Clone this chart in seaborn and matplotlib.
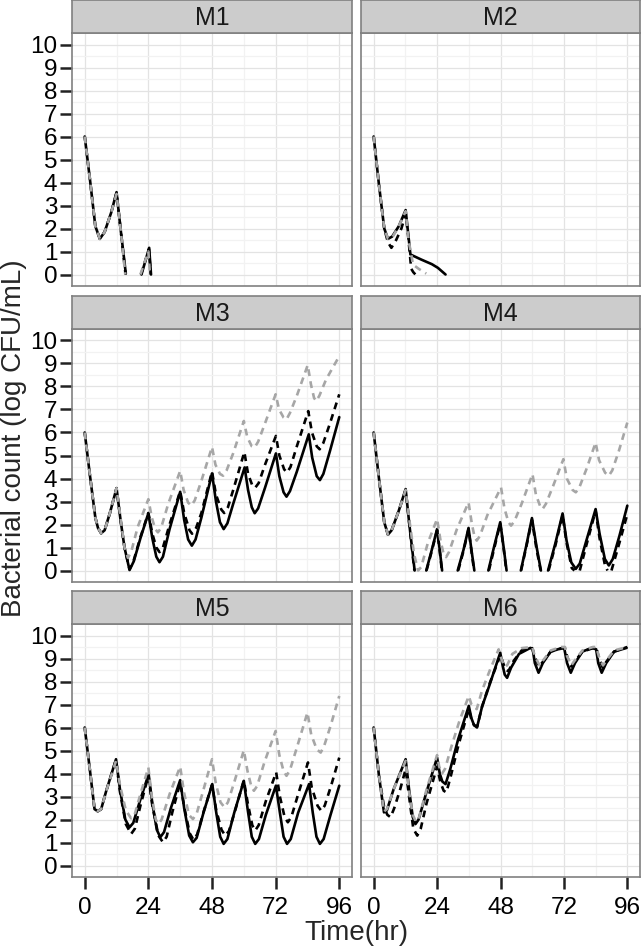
import numpy as np
import pandas as pd
import matplotlib
matplotlib.use("Agg")
import matplotlib.pyplot as plt
import seaborn as sns

nan = np.nan

models = ["M1", "M2", "M3", "M4", "M5", "M6"]
series = ["A", "B", "C"]   # A solid black, B dashed black, C dashed grey
x_ticks = [0, 24, 48, 72, 96]
y_ticks = list(range(11))

# ---- M1 ----
m1_a_t = [0, 2, 4, 5.7, 7.5, 10, 12, 13.5, 15.5, nan, 21.4, 24.3, 25]
m1_a_y = [6, 4.1, 2.1, 1.55, 1.85, 2.7, 3.58, 2.0, 0.04, nan, 0, 1.16, 0]
m1_b_t = [0, 2, 4, 5.7, 7.5, 10, 12, 13.5, 15.4, nan, 21.2, 24.2, 24.9]
m1_b_y = [6, 4.1, 2.1, 1.55, 1.85, 2.7, 3.55, 2.0, 0.0, nan, 0, 1.1, 0]
m1_c_t = [0, 2, 4, 5.7, 7.5, 10, 12, 13.5, 15.3, nan, 21.0, 24.0, 24.6]
m1_c_y = [6, 4.1, 2.1, 1.55, 1.85, 2.7, 3.5, 2.0, 0.0, nan, 0, 1.0, 0]

# ---- M2 ----
m2_a_t = [0, 2, 4, 5.4, 7, 9.5, 12.1, 13.9, 18, 22, 24.3, 27.2]
m2_a_y = [6, 3.9, 2.0, 1.55, 1.65, 2.1, 2.8, 0.87, 0.65, 0.45, 0.29, 0]
m2_b_t = [0, 2, 4, 5.4, 6.7, 8.5, 10.5, 12.1, 13.2, 14.2, 15, 15.8]
m2_b_y = [6, 3.9, 2.0, 1.4, 1.16, 1.5, 2.0, 2.65, 1.5, 0.25, 0.1, 0]
m2_c_t = [0, 2, 4, 5.4, 7, 9.5, 12.1, 13.2, 14.9, 17, 19.9]
m2_c_y = [6, 3.9, 2.0, 1.55, 1.6, 2.1, 2.75, 1.5, 0.43, 0.25, 0.04]

# ---- M3 ----
m3_a_t = [0, 2, 4, 5, 6.2, 7.5, 9.5, 12, 13.5, 15, 16.9, 18.5, 21, 24,
          25.5, 27, 28.2, 29.5, 32, 36, 37.5, 39, 40.4, 41.8, 44, 48,
          49.5, 51, 52.4, 53.8, 56, 60.3, 61.6, 63, 64.1, 65.4, 68, 72.1,
          73.4, 75, 76.1, 77.4, 80, 84.5, 85.8, 87.5, 88.7, 90, 92.5, 96]
m3_a_y = [6, 4.1, 2.3, 1.85, 1.62, 1.75, 2.5, 3.58, 2.2, 1.0, 0.02, 0.4, 1.4, 2.49,
          1.4, 0.6, 0.36, 0.6, 1.8, 3.42, 2.2, 1.35, 1.08, 1.35, 2.3, 4.22,
          3.0, 2.1, 1.8, 2.05, 2.9, 4.48, 3.5, 2.75, 2.49, 2.7, 3.6, 5.09,
          4.1, 3.4, 3.21, 3.45, 4.3, 5.92, 4.9, 4.1, 3.93, 4.2, 5.2, 6.67]
m3_b_t = [0, 2, 4, 5, 6.2, 7.5, 9.5, 12, 13.5, 15, 16.9, 18.5, 21, 24,
          25.5, 27, 28.2, 29.5, 32, 36, 37.5, 39.5, 40.5, 42, 44, 48,
          49.5, 51.5, 52.6, 54, 56, 60.2, 61.6, 63.2, 64.3, 65.6, 68, 72.1,
          73.4, 75.2, 76.3, 77.6, 80, 84.3, 85.7, 87.5, 88.6, 90, 92.5, 96]
m3_b_y = [6, 4.1, 2.3, 1.85, 1.62, 1.75, 2.5, 3.58, 2.2, 1.0, 0.05, 0.45, 1.45, 2.5,
          1.6, 1.0, 0.8, 1.0, 2.0, 3.45, 2.5, 1.75, 1.6, 1.85, 2.5, 4.3,
          3.3, 2.65, 2.5, 2.75, 3.5, 5.15, 4.2, 3.7, 3.6, 3.8, 4.6, 5.85,
          5.0, 4.4, 4.26, 4.5, 5.4, 6.93, 6.0, 5.4, 5.27, 5.55, 6.4, 7.66]
m3_c_t = [0, 2, 4, 5, 6.2, 7.5, 9.5, 12, 13.5, 15, 16.3, 17.5, 20, 24,
          25.3, 26.6, 27.6, 28.8, 31.5, 36, 37.3, 39, 40.2, 41.5, 44, 48,
          49.3, 51, 52.2, 53.5, 56, 60, 61.3, 63, 64.1, 65.4, 68, 72,
          73.3, 75, 76.1, 77.4, 80, 84.1, 85.3, 86.5, 87.3, 88.5, 91, 96]
m3_c_y = [6, 4.1, 2.3, 1.85, 1.62, 1.75, 2.5, 3.58, 2.3, 1.0, 0.55, 0.8, 1.9, 3.1,
          2.3, 1.8, 1.66, 1.85, 2.9, 4.33, 3.5, 2.95, 2.82, 3.05, 3.9, 5.37,
          4.6, 4.2, 4.12, 4.35, 5.1, 6.5, 5.8, 5.4, 5.35, 5.6, 6.4, 7.66,
          7.0, 6.65, 6.57, 6.85, 7.6, 8.93, 8.1, 7.5, 7.37, 7.6, 8.3, 9.32]

# ---- M4 ----
m4_a_t = [0, 2, 4, 5.4, 6.8, 9.5, 12.1, 13.5, 15.5, nan,
          19.9, 22, 24, 25, 25.9, nan, 31.8, 34, 35.9, 37, 38.1, nan,
          43.4, 45.5, 47.9, 49.2, 50.3, nan, 55.7, 57.8, 59.9, 61.7, 63.3, nan,
          66, 68.8, 71.5, 73, 74.8, 76.5, 78, 80.5, 84, 85.5, 87.5, 89, 90.5, 93, 96]
m4_a_y = [6, 4.0, 2.1, 1.56, 1.75, 2.6, 3.54, 2.0, 0.0, nan,
          0, 0.9, 1.8, 0.9, 0, nan, 0, 0.9, 1.85, 0.9, 0, nan,
          0, 1.0, 2.1, 1.0, 0, nan, 0, 1.1, 2.28, 1.0, 0, nan,
          0, 1.2, 2.48, 1.3, 0.35, 0.07, 0.3, 1.3, 2.67, 1.6, 0.5, 0.22, 0.5, 1.5, 2.82]
m4_b_t = [0, 2, 4, 5.4, 6.8, 9.5, 12.1, 13.5, 15.4, nan,
          20, 22, 24, 25, 25.8, nan, 32, 34, 35.9, 37, 38, nan,
          43.6, 45.6, 47.9, 49.2, 50.2, nan, 55.8, 57.8, 59.9, 61.6, 63.2, nan,
          66.2, 68.8, 71.5, 73, 75, 76, nan, 78, 80.5, 84, 85.5, 87.5, 88.5, nan,
          90, 93, 96]
m4_b_y = [6, 4.0, 2.1, 1.56, 1.75, 2.6, 3.5, 2.0, 0, nan,
          0, 0.85, 1.75, 0.85, 0, nan, 0, 0.85, 1.8, 0.85, 0, nan,
          0, 0.95, 2.05, 0.95, 0, nan, 0, 1.05, 2.2, 0.95, 0, nan,
          0, 1.1, 2.4, 1.2, 0.1, 0, nan, 0, 1.1, 2.6, 1.4, 0.25, 0, nan,
          0, 1.2, 2.45]
m4_c_t = [0, 2, 4, 5.4, 6.8, 9.5, 12.1, 13.5, 15.3, 16.8, 18, 20.5, 24,
          25.3, 26.5, 27.4, 28.5, 31.5, 35.9, 37.2, 38.2, 39, 40.2, 43, 48.2,
          49.5, 51, 52, 53.3, 56, 60.1, 61.4, 63, 63.9, 65.2, 68, 71.8,
          73.1, 75.3, 76.5, 77.8, 80.5, 84, 85.3, 87.6, 89, 90.3, 92.8, 96]
m4_c_y = [6, 4.0, 2.1, 1.56, 1.75, 2.6, 3.5, 2.2, 0.7, 0, 0.15, 1.2, 2.24,
          1.3, 0.7, 0.58, 0.8, 1.8, 2.96, 2.0, 1.45, 1.3, 1.5, 2.4, 3.61,
          2.7, 2.1, 1.95, 2.15, 2.9, 4.19, 3.3, 2.8, 2.67, 2.9, 3.7, 4.84,
          4.0, 3.5, 3.4, 3.6, 4.4, 5.56, 4.8, 4.25, 4.12, 4.35, 5.2, 6.43]

# ---- M5 ----
m5_a_t = [0, 2, 3.7, 4.9, 6.2, 8, 11.8, 13.3, 15.3, 16.9, 18.3, 20.8, 24.1,
          25.5, 27.2, 28.5, 29.9, 32.5, 36, 37.5, 39.4, 40.8, 42.2, 44.8, 48.1,
          49.6, 51.1, 52.4, 53.8, 56.4, 60, 61.5, 63, 64.3, 65.7, 68.3, 72.1,
          73.6, 75, 76.3, 77.7, 80.5, 84.6, 86, 87.4, 88.7, 90.1, 92.7, 96]
m5_a_y = [6, 4.1, 2.45, 2.36, 2.45, 3.2, 4.62, 3.3, 2.0, 1.66, 1.85, 2.8, 3.97,
          2.7, 1.55, 1.23, 1.45, 2.5, 3.71, 2.5, 1.3, 1.01, 1.2, 2.3, 3.54,
          2.3, 1.25, 0.94, 1.15, 2.3, 3.68, 2.4, 1.25, 0.94, 1.15, 2.2, 3.47,
          2.3, 1.25, 0.94, 1.15, 2.3, 3.54, 2.3, 1.25, 0.94, 1.15, 2.2, 3.47]
m5_b_t = [0, 2, 3.7, 4.9, 6.2, 8, 11.8, 13.3, 15.5, 17.5, 18.9, 21, 24,
          25.5, 27.8, 29.5, 30.9, 33, 36, 37.6, 39.6, 41, 42.4, 45, 48,
          49.6, 51.6, 53, 54.4, 57, 60, 61.5, 63.2, 64.3, 65.6, 68.3, 72.2,
          73.6, 75.4, 76.6, 77.9, 80.5, 84.2, 85.6, 87.8, 89.2, 90.5, 93, 96]
m5_b_y = [6, 4.1, 2.45, 2.36, 2.45, 3.2, 4.6, 3.2, 1.8, 1.37, 1.6, 2.6, 3.9,
          2.6, 1.3, 1.01, 1.25, 2.3, 3.6, 2.5, 1.4, 1.12, 1.35, 2.4, 3.5,
          2.4, 1.55, 1.3, 1.5, 2.5, 3.7, 2.7, 1.75, 1.52, 1.75, 2.8, 4.05,
          3.0, 2.1, 1.88, 2.1, 3.1, 4.48, 3.4, 2.6, 2.38, 2.6, 3.5, 4.69]
m5_c_t = [0, 2, 3.7, 4.9, 6.2, 8, 11.8, 13.3, 15.5, 17.5, 18.8, 21, 24,
          25.3, 26.8, 27.8, 29, 32, 36, 37.4, 39.3, 40.8, 42.2, 44.8, 48,
          49.4, 51.2, 52.7, 54, 56.6, 60, 61.4, 62.8, 63.8, 65, 67.8, 72,
          73.4, 75, 76.1, 77.4, 80.2, 84, 85.4, 87.5, 89, 90.3, 92.8, 96]
m5_c_y = [6, 4.1, 2.45, 2.36, 2.45, 3.2, 4.55, 3.5, 2.4, 2.05, 2.2, 3.1, 4.26,
          3.0, 2.0, 1.8, 2.0, 3.1, 4.3, 3.2, 2.2, 2.02, 2.25, 3.3, 4.62,
          3.6, 2.75, 2.53, 2.75, 3.7, 5.01, 4.1, 3.45, 3.25, 3.45, 4.5, 5.85,
          4.8, 4.1, 3.9, 4.15, 5.2, 6.65, 5.7, 5.05, 4.91, 5.2, 6.1, 7.37]

# ---- M6 ----
m6_a_t = [0, 2, 3.9, 5, 7.5, 12.1, 13.4, 14.8, 15.8, 17, 20, 24,
          25, 26, 27.2, 29, 32, 36, 37, 38, 39.1, 41, 44, 47.9,
          48.8, 49.6, 50.5, 52, 55, 59.3, 60.2, 61, 62.4, 64, 67, 71.4,
          72.2, 73.2, 74.6, 76.2, 79, 82.5, 84.2, 85, 86.3, 88, 91, 95.7]
m6_a_y = [6, 3.9, 2.31, 2.4, 3.3, 4.62, 3.3, 2.1, 1.8, 2.0, 3.2, 4.69,
          4.0, 3.65, 3.54, 4.2, 5.5, 6.94, 6.4, 6.1, 6.0, 6.9, 7.9, 9.25,
          8.7, 8.3, 8.16, 8.6, 9.2, 9.46, 9.4, 8.8, 8.38, 8.8, 9.3, 9.46,
          9.4, 8.8, 8.38, 8.8, 9.3, 9.46, 9.4, 8.8, 8.38, 8.8, 9.3, 9.46]
m6_b_t = [0, 2, 4, 5.2, 6.4, 7.8, 10, 12.1, 13.4, 15, 16.5, 17.8, 20, 24,
          25.3, 26.5, 27.5, 29, 32, 36, 37, 38, 39.2, 41, 44, 48,
          49, 50, 51, 53, 56, 60, 61, 62.6, 64, 67, 71.5,
          72.4, 73.3, 74.8, 76, 79, 83, 84.3, 85.2, 86.7, 88, 91, 96]
m6_b_y = [6, 3.9, 2.5, 2.2, 2.1, 2.5, 3.3, 4.19, 3.0, 1.6, 1.3, 1.6, 2.7, 4.3,
          3.6, 3.25, 3.18, 3.8, 5.2, 6.8, 6.35, 6.1, 6.05, 6.9, 7.95, 9.15,
          8.8, 8.5, 8.45, 8.9, 9.35, 9.45, 9.05, 8.65, 8.85, 9.3, 9.45,
          9.45, 9.05, 8.65, 8.85, 9.3, 9.45, 9.45, 9.05, 8.6, 8.85, 9.3, 9.5]
m6_c_t = [0, 2, 3.9, 5, 7.5, 12.1, 13.4, 14.8, 16, 17.2, 20, 24,
          24.8, 25.9, 27, 29.5, 32.5, 36, 37, 39, 41, 44, 47.3,
          48.3, 49.5, 50.5, 52.5, 56, 60, 61, 62.8, 64, 67, 71,
          72.4, 73.2, 74.8, 76, 79, 83, 84.3, 85.2, 86.8, 88, 91, 96]
m6_c_y = [6, 3.9, 2.35, 2.45, 3.3, 4.55, 3.2, 2.2, 1.9, 2.1, 3.3, 4.8,
          4.3, 4.0, 4.2, 5.2, 6.3, 7.37, 7.0, 6.8, 7.6, 8.5, 9.4,
          9.0, 8.65, 8.7, 9.2, 9.45, 9.5, 9.1, 8.7, 8.9, 9.35, 9.5,
          9.5, 9.1, 8.7, 8.9, 9.35, 9.5, 9.5, 9.1, 8.7, 8.9, 9.35, 9.5]

curves = {
    ("M1", "A"): (m1_a_t, m1_a_y), ("M1", "B"): (m1_b_t, m1_b_y), ("M1", "C"): (m1_c_t, m1_c_y),
    ("M2", "A"): (m2_a_t, m2_a_y), ("M2", "B"): (m2_b_t, m2_b_y), ("M2", "C"): (m2_c_t, m2_c_y),
    ("M3", "A"): (m3_a_t, m3_a_y), ("M3", "B"): (m3_b_t, m3_b_y), ("M3", "C"): (m3_c_t, m3_c_y),
    ("M4", "A"): (m4_a_t, m4_a_y), ("M4", "B"): (m4_b_t, m4_b_y), ("M4", "C"): (m4_c_t, m4_c_y),
    ("M5", "A"): (m5_a_t, m5_a_y), ("M5", "B"): (m5_b_t, m5_b_y), ("M5", "C"): (m5_c_t, m5_c_y),
    ("M6", "A"): (m6_a_t, m6_a_y), ("M6", "B"): (m6_b_t, m6_b_y), ("M6", "C"): (m6_c_t, m6_c_y),
}

# long table, a new segment starts after every nan (line break below detection)
rows = []
for (m, s), (ts, ys) in curves.items():
    seg = 0
    for t, y in zip(ts, ys):
        if np.isnan(t):
            seg += 1
            continue
        rows.append({"model": m, "series": s, "seg": f"{s}{seg}", "time": t, "count": y})
df = pd.DataFrame(rows)

sns.set_style("white")
plt.rcParams["font.family"] = ["Liberation Sans", "DejaVu Sans"]

palette = {"A": "black", "B": "black", "C": "#a6a6a6"}
dashes = {"A": "", "B": (2.6, 2.0), "C": (2.6, 2.0)}

W, H = 641, 948
fig = plt.figure(figsize=(W / 100, H / 100), dpi=100)
col_x = [72, 361]
col_w = [280, 279]
row_top = [33, 329, 624]
ph, sh = 253, 33

for i, m in enumerate(models):
    r, c = divmod(i, 2)
    ax = fig.add_axes([col_x[c] / W, 1 - (row_top[r] + ph) / H, col_w[c] / W, ph / H])
    sub = df[df["model"] == m]
    sns.lineplot(data=sub, x="time", y="count", hue="series", style="series",
                 units="seg", estimator=None, sort=False, hue_order=series,
                 style_order=series, palette=palette, dashes=dashes,
                 linewidth=1.9, legend=False, ax=ax)
    ax.set_xlim(-4.8, 100.8)
    ax.set_ylim(-0.5, 10.5)
    ax.set_xticks(x_ticks)
    ax.set_xticks([12, 36, 60, 84], minor=True)
    ax.set_yticks(y_ticks)
    ax.set_yticks(np.arange(0.5, 10.5, 1), minor=True)
    ax.grid(which="major", color="#e3e3e3", linewidth=0.9)
    ax.grid(which="minor", color="#f2f2f2", linewidth=0.9)
    ax.set_axisbelow(True)
    for sp in ax.spines.values():
        sp.set_color("#808080")
        sp.set_linewidth(1.2)
    ax.tick_params(which="major", bottom=(r == 2), left=(c == 0),
                   labelbottom=(r == 2), labelleft=(c == 0),
                   length=8.5, width=1.8, color="#222222",
                   labelsize=17.5, labelcolor="black")
    ax.tick_params(which="minor", length=0)
    ax.tick_params(axis="x", pad=6)
    ax.tick_params(axis="y", pad=2)
    ax.set_xlabel("")
    ax.set_ylabel("")

    sax = fig.add_axes([col_x[c] / W, 1 - row_top[r] / H, col_w[c] / W, sh / H])
    sax.set_facecolor("#cccccc")
    sax.set_xticks([])
    sax.set_yticks([])
    for sp in sax.spines.values():
        sp.set_color("#808080")
        sp.set_linewidth(1.2)
    sax.text(0.5, 0.45, m, ha="center", va="center", fontsize=18,
             color="#1a1a1a", transform=sax.transAxes)

fig.text((72 + 640) / 2 / W, 1 - 940 / H, "Time(hr)", ha="center",
         va="baseline", fontsize=20)
fig.text(14 / W, 1 - 438 / H, "Bacterial count (log CFU/mL)", ha="center",
         va="center", rotation=90, fontsize=20)

fig.savefig("out.png", dpi=100, facecolor="white")
